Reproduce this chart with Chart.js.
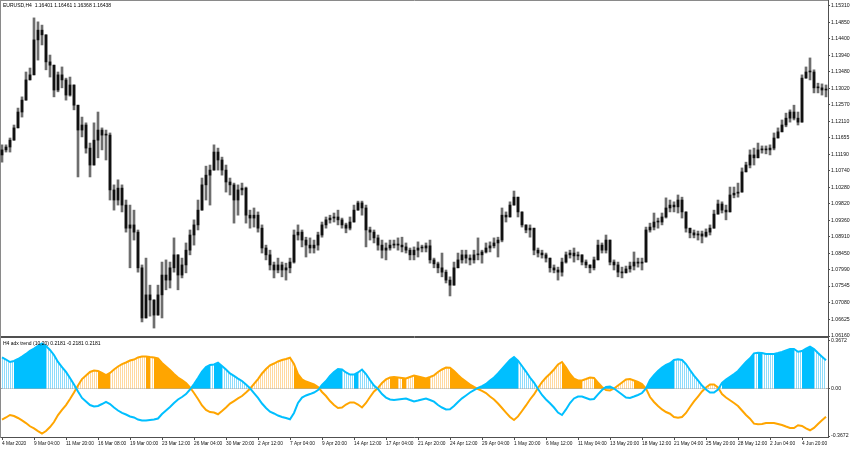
<!DOCTYPE html>
<html><head><meta charset="utf-8">
<script src="https://cdn.jsdelivr.net/npm/chart.js@4"></script>
<style>
html,body{margin:0;padding:0;background:#fff;}
#wrap{position:relative;width:852px;height:450px;overflow:hidden;background:#fff;}
#c1{position:absolute;left:0;top:0;}
#c2{position:absolute;left:0;top:337px;}
.lbl{position:absolute;font-family:"Liberation Sans",Arial,sans-serif;font-size:5px;color:#000;white-space:pre;line-height:1;}
</style></head><body>
<div id="wrap">
<canvas id="c1" width="852" height="345"></canvas>
<canvas id="c2" width="852" height="113"></canvas>
<div class="lbl" style="left:3px;top:2.5px">EURUSD,H4  1.16401 1.16461 1.16368 1.16438</div>
<div class="lbl" style="left:3px;top:340.5px">H4 adx trend (10,20) 0.2181 -0.2181 0.2181</div>
</div>
<script>
const timeLabels = ['4 Mar 2020','9 Mar 04:00','11 Mar 20:00','16 Mar 08:00','19 Mar 00:00','23 Mar 12:00','26 Mar 04:00','30 Mar 20:00','2 Apr 12:00','7 Apr 04:00','9 Apr 20:00','14 Apr 12:00','17 Apr 04:00','21 Apr 20:00','24 Apr 12:00','29 Apr 04:00','1 May 20:00','6 May 12:00','11 May 04:00','13 May 20:00','18 May 12:00','21 May 04:00','25 May 20:00','28 May 12:00','2 Jun 04:00','4 Jun 20:00'];
const priceTicks = [1.15310,1.14850,1.14400,1.13940,1.13480,1.13020,1.12570,1.12110,1.11655,1.11190,1.10740,1.10280,1.09820,1.09360,1.08910,1.08450,1.07990,1.07545,1.07080,1.06625,1.06160];
const indTicks = [0.3672, 0, -0.3672];
const indTickLabels = ['0.3672', '0.00', '-0.3672'];

const opens = [1.1118,1.1132,1.1140,1.1159,1.1193,1.1237,1.1270,1.1326,1.1340,1.1437,
1.1464,1.1451,1.1376,1.1367,1.1298,1.1340,1.1326,1.1284,1.1312,1.1256,
1.1187,1.1201,1.1137,1.1090,1.1159,1.1187,1.1173,1.1173,1.1021,1.0993,
1.1026,1.0979,1.0915,1.0924,1.0904,1.0805,1.0666,1.0730,1.0716,1.0674,
1.0730,1.0785,1.0771,1.0805,1.0841,1.0785,1.0813,1.0854,1.0896,1.0924,
1.0965,1.1035,1.1062,1.1076,1.1126,1.1104,1.1076,1.1043,1.1035,1.0993,
1.1021,1.1026,1.0951,1.0943,1.0951,1.0915,1.0860,1.0841,1.0813,1.0799,
1.0813,1.0799,1.0805,1.0821,1.0896,1.0904,1.0882,1.0868,1.0860,1.0868,
1.0896,1.0924,1.0938,1.0943,1.0946,1.0938,1.0924,1.0915,1.0932,1.0965,
1.0985,1.0971,1.0910,1.0904,1.0888,1.0868,1.0854,1.0860,1.0868,1.0871,
1.0868,1.0863,1.0854,1.0841,1.0854,1.0860,1.0860,1.0866,1.0827,1.0816,
1.0805,1.0793,1.0771,1.0757,1.0805,1.0827,1.0841,1.0832,1.0827,1.0841,
1.0841,1.0849,1.0860,1.0866,1.0874,1.0882,1.0951,1.0946,1.0979,1.1001,
1.0960,1.0924,1.0910,1.0915,1.0854,1.0846,1.0841,1.0832,1.0805,1.0799,
1.0793,1.0821,1.0841,1.0846,1.0838,1.0841,1.0821,1.0813,1.0805,1.0827,
1.0868,1.0854,1.0882,1.0821,1.0813,1.0793,1.0791,1.0802,1.0810,1.0821,
1.0818,1.0821,1.0910,1.0918,1.0932,1.0932,1.0946,1.0971,1.0979,1.0974,
1.0993,1.0960,1.0915,1.0902,1.0896,1.0899,1.0893,1.0904,1.0915,1.0954,
1.0982,1.0965,1.0960,1.1007,1.1012,1.1015,1.1071,1.1090,1.1118,1.1110,
1.1132,1.1132,1.1132,1.1137,1.1165,1.1182,1.1201,1.1220,1.1237,1.1220,
1.1209,1.1331,1.1348,1.1348,1.1304,1.1304,1.1298];
const highs = [1.1146,1.1146,1.1165,1.1201,1.1248,1.1279,1.1348,1.1359,1.1498,1.1487,
1.1478,1.1451,1.1395,1.1367,1.1348,1.1362,1.1331,1.1334,1.1312,1.1256,
1.1223,1.1207,1.1151,1.1207,1.1237,1.1193,1.1187,1.1179,1.1035,1.1049,
1.1035,1.0993,1.0979,1.0965,1.0910,1.0813,1.0832,1.0757,1.0716,1.0757,
1.0821,1.0827,1.0821,1.0888,1.0841,1.0832,1.0874,1.0910,1.0938,1.0993,
1.1054,1.1087,1.1090,1.1146,1.1137,1.1112,1.1090,1.1054,1.1040,1.1035,
1.1040,1.1029,1.0965,1.0971,1.0960,1.0924,1.0868,1.0854,1.0821,1.0832,
1.0821,1.0818,1.0832,1.0910,1.0924,1.0910,1.0890,1.0888,1.0882,1.0904,
1.0932,1.0946,1.0951,1.0957,1.0965,1.0943,1.0929,1.0946,1.0979,1.0990,
1.0990,1.0979,1.0918,1.0910,1.0896,1.0882,1.0874,1.0882,1.0882,1.0888,
1.0890,1.0874,1.0860,1.0863,1.0877,1.0868,1.0874,1.0882,1.0832,1.0821,
1.0846,1.0799,1.0780,1.0821,1.0846,1.0854,1.0854,1.0841,1.0854,1.0888,
1.0854,1.0874,1.0877,1.0888,1.0890,1.0971,1.0960,1.0988,1.1018,1.1001,
1.0960,1.0924,1.0924,1.0915,1.0860,1.0854,1.0846,1.0832,1.0813,1.0807,
1.0832,1.0849,1.0854,1.0860,1.0849,1.0841,1.0827,1.0813,1.0835,1.0882,
1.0874,1.0896,1.0882,1.0827,1.0821,1.0807,1.0810,1.0821,1.0849,1.0832,
1.0832,1.0918,1.0929,1.0957,1.0943,1.0957,1.0999,1.0993,1.0988,1.1007,
1.1001,1.0960,1.0915,1.0910,1.0907,1.0907,1.0913,1.0924,1.0965,1.0993,
1.0988,1.0979,1.1029,1.1029,1.1040,1.1082,1.1098,1.1132,1.1137,1.1151,
1.1143,1.1143,1.1146,1.1179,1.1193,1.1215,1.1234,1.1243,1.1256,1.1237,
1.1340,1.1362,1.1387,1.1354,1.1317,1.1315,1.1312];
const lows = [1.1098,1.1126,1.1126,1.1159,1.1193,1.1223,1.1270,1.1326,1.1340,1.1381,
1.1423,1.1354,1.1334,1.1279,1.1293,1.1304,1.1270,1.1281,1.1243,1.1057,
1.1168,1.1123,1.1057,1.1090,1.1110,1.1132,1.1104,1.0993,1.0965,1.0979,
1.0960,1.0904,1.0805,1.0882,1.0793,1.0655,1.0666,1.0671,1.0638,1.0674,
1.0666,1.0744,1.0749,1.0793,1.0744,1.0777,1.0791,1.0841,1.0868,1.0910,
1.0965,1.0993,1.0979,1.1076,1.1076,1.1062,1.1015,1.1007,1.0929,1.0951,
1.1007,1.0929,1.0915,1.0918,1.0904,1.0846,1.0827,1.0799,1.0777,1.0791,
1.0780,1.0771,1.0791,1.0818,1.0882,1.0863,1.0835,1.0846,1.0846,1.0854,
1.0890,1.0915,1.0929,1.0932,1.0924,1.0915,1.0902,1.0910,1.0932,1.0965,
1.0951,1.0863,1.0882,1.0874,1.0854,1.0832,1.0827,1.0854,1.0860,1.0854,
1.0849,1.0846,1.0827,1.0827,1.0835,1.0849,1.0849,1.0818,1.0805,1.0791,
1.0780,1.0763,1.0727,1.0757,1.0805,1.0818,1.0818,1.0813,1.0818,1.0827,
1.0818,1.0846,1.0849,1.0860,1.0835,1.0877,1.0932,1.0946,1.0979,1.0946,
1.0918,1.0902,1.0890,1.0841,1.0835,1.0832,1.0821,1.0793,1.0791,1.0771,
1.0782,1.0818,1.0832,1.0821,1.0827,1.0813,1.0805,1.0791,1.0799,1.0827,
1.0846,1.0846,1.0813,1.0799,1.0780,1.0777,1.0791,1.0793,1.0799,1.0807,
1.0799,1.0821,1.0904,1.0910,1.0915,1.0924,1.0943,1.0960,1.0960,1.0957,
1.0943,1.0904,1.0888,1.0888,1.0882,1.0874,1.0890,1.0896,1.0915,1.0954,
1.0957,1.0938,1.0960,1.0999,1.1001,1.1015,1.1071,1.1082,1.1090,1.1110,
1.1123,1.1121,1.1118,1.1132,1.1165,1.1182,1.1196,1.1209,1.1215,1.1201,
1.1209,1.1331,1.1326,1.1290,1.1290,1.1284,1.1279];
const closes = [1.1132,1.1140,1.1159,1.1193,1.1237,1.1270,1.1326,1.1340,1.1437,1.1464,
1.1451,1.1376,1.1367,1.1298,1.1340,1.1326,1.1284,1.1312,1.1256,1.1187,
1.1201,1.1137,1.1090,1.1159,1.1187,1.1173,1.1173,1.1021,1.0993,1.1026,
1.0979,1.0915,1.0924,1.0904,1.0805,1.0666,1.0730,1.0716,1.0674,1.0730,
1.0785,1.0771,1.0805,1.0841,1.0785,1.0813,1.0854,1.0896,1.0924,1.0965,
1.1035,1.1062,1.1076,1.1126,1.1104,1.1076,1.1043,1.1035,1.0993,1.1021,
1.1026,1.0951,1.0943,1.0951,1.0915,1.0860,1.0841,1.0813,1.0799,1.0813,
1.0799,1.0805,1.0821,1.0896,1.0904,1.0882,1.0868,1.0860,1.0868,1.0896,
1.0924,1.0938,1.0943,1.0946,1.0938,1.0924,1.0915,1.0932,1.0965,1.0985,
1.0971,1.0910,1.0904,1.0888,1.0868,1.0854,1.0860,1.0868,1.0871,1.0868,
1.0863,1.0854,1.0841,1.0854,1.0860,1.0860,1.0866,1.0827,1.0816,1.0805,
1.0793,1.0771,1.0757,1.0805,1.0827,1.0841,1.0832,1.0827,1.0841,1.0841,
1.0849,1.0860,1.0866,1.0874,1.0882,1.0951,1.0946,1.0979,1.1001,1.0960,
1.0924,1.0910,1.0915,1.0854,1.0846,1.0841,1.0832,1.0805,1.0799,1.0793,
1.0821,1.0841,1.0846,1.0838,1.0841,1.0821,1.0813,1.0805,1.0827,1.0868,
1.0854,1.0882,1.0821,1.0813,1.0793,1.0791,1.0802,1.0810,1.0821,1.0818,
1.0821,1.0910,1.0918,1.0932,1.0932,1.0946,1.0971,1.0979,1.0974,1.0993,
1.0960,1.0915,1.0902,1.0896,1.0899,1.0893,1.0904,1.0915,1.0954,1.0982,
1.0965,1.0960,1.1007,1.1012,1.1015,1.1071,1.1090,1.1118,1.1110,1.1132,
1.1132,1.1132,1.1137,1.1165,1.1182,1.1201,1.1220,1.1237,1.1220,1.1209,
1.1331,1.1348,1.1348,1.1304,1.1304,1.1298,1.1298];

const trendUp = [0.240,0.224,0.205,0.213,0.228,0.247,0.267,0.292,0.309,0.329,
0.348,0.329,0.298,0.259,0.205,0.166,0.128,0.081,0.031,-0.023,
-0.073,-0.100,-0.128,-0.139,-0.135,-0.120,-0.104,-0.120,-0.147,-0.170,
-0.189,-0.201,-0.216,-0.224,-0.240,-0.247,-0.247,-0.243,-0.240,-0.232,
-0.197,-0.170,-0.143,-0.112,-0.085,-0.066,-0.043,-0.008,0.035,0.081,
0.131,0.166,0.182,0.186,0.199,0.174,0.147,0.117,0.097,0.077,
0.058,0.031,0.002,-0.035,-0.073,-0.116,-0.151,-0.179,-0.193,-0.209,
-0.220,-0.228,-0.238,-0.189,-0.112,-0.070,-0.054,-0.043,-0.031,-0.012,
0.027,0.058,0.097,0.128,0.151,0.147,0.124,0.108,0.108,0.124,
0.147,0.112,0.066,0.023,-0.004,-0.043,-0.070,-0.085,-0.089,-0.085,
-0.081,-0.077,-0.089,-0.100,-0.093,-0.085,-0.077,-0.089,-0.102,-0.128,
-0.147,-0.162,-0.161,-0.135,-0.104,-0.076,-0.054,-0.031,-0.012,0.004,
0.019,0.035,0.062,0.085,0.116,0.151,0.186,0.220,0.243,0.216,
0.174,0.131,0.085,0.046,-0.004,-0.050,-0.085,-0.114,-0.147,-0.186,
-0.205,-0.162,-0.112,-0.077,-0.062,-0.062,-0.073,-0.085,-0.081,-0.046,
-0.012,0.012,0.015,0.000,-0.023,-0.046,-0.070,-0.073,-0.062,-0.050,
-0.035,0.000,0.066,0.104,0.135,0.162,0.182,0.195,0.220,0.226,
0.220,0.189,0.143,0.100,0.062,0.023,-0.008,-0.031,-0.031,-0.008,
0.043,0.070,0.091,0.112,0.135,0.170,0.205,0.233,0.272,0.277,
0.274,0.267,0.267,0.267,0.274,0.282,0.294,0.305,0.305,0.284,
0.290,0.309,0.323,0.305,0.274,0.246,0.218];
const trendDown = [-0.240,-0.224,-0.205,-0.213,-0.228,-0.247,-0.267,-0.292,-0.309,-0.329,
-0.348,-0.329,-0.298,-0.259,-0.205,-0.166,-0.128,-0.081,-0.031,0.023,
0.073,0.100,0.128,0.139,0.135,0.120,0.104,0.120,0.147,0.170,
0.189,0.201,0.216,0.224,0.240,0.247,0.247,0.243,0.240,0.232,
0.197,0.170,0.143,0.112,0.085,0.066,0.043,0.008,-0.035,-0.081,
-0.131,-0.166,-0.182,-0.186,-0.199,-0.174,-0.147,-0.117,-0.097,-0.077,
-0.058,-0.031,-0.002,0.035,0.073,0.116,0.151,0.179,0.193,0.209,
0.220,0.228,0.238,0.189,0.112,0.070,0.054,0.043,0.031,0.012,
-0.027,-0.058,-0.097,-0.128,-0.151,-0.147,-0.124,-0.108,-0.108,-0.124,
-0.147,-0.112,-0.066,-0.023,0.004,0.043,0.070,0.085,0.089,0.085,
0.081,0.077,0.089,0.100,0.093,0.085,0.077,0.089,0.102,0.128,
0.147,0.162,0.161,0.135,0.104,0.076,0.054,0.031,0.012,-0.004,
-0.019,-0.035,-0.062,-0.085,-0.116,-0.151,-0.186,-0.220,-0.243,-0.216,
-0.174,-0.131,-0.085,-0.046,0.004,0.050,0.085,0.114,0.147,0.186,
0.205,0.162,0.112,0.077,0.062,0.062,0.073,0.085,0.081,0.046,
0.012,-0.012,-0.015,0.000,0.023,0.046,0.070,0.073,0.062,0.050,
0.035,0.000,-0.066,-0.104,-0.135,-0.162,-0.182,-0.195,-0.220,-0.226,
-0.220,-0.189,-0.143,-0.100,-0.062,-0.023,0.008,0.031,0.031,0.008,
-0.043,-0.070,-0.091,-0.112,-0.135,-0.170,-0.205,-0.233,-0.272,-0.277,
-0.274,-0.267,-0.267,-0.267,-0.274,-0.282,-0.294,-0.305,-0.305,-0.284,
-0.290,-0.309,-0.323,-0.305,-0.274,-0.246,-0.218];
// 1 = solid histogram bar, 0 = light (hatched) bar
const shade = ('000' + '11111111' + '00000000' + '00000' + '111' + '000000000' + '1' + '0' + '1111111111' +
  '1111' + '0' + '11' + '00000000' + '0000000000' + '1111111' + '11111' + '000' + '1' + '00000' +
  '000' + '11' + '0' + '1' + '00' + '1111' + '00000' + '1111111' + '1111111111' + '00000' +
  '000000' + '11111' + '000' + '111' + '11' + '00000' + '111' + '1111111' + '00000000' + '0000' +
  '11111111' + '0' + '1' + '000' + '11111' + '00' + '111' + '0000').split('').map(Number);

const FONT_Y = {family: '"Liberation Sans", Arial, sans-serif', size: 5.2};
const FONT_X = {family: '"Liberation Sans", Arial, sans-serif', size: 4.8};
const catLabels = closes.map((_, i) => (i % 8 === 0 && timeLabels[i / 8]) ? timeLabels[i / 8] : '');

function borderAxis(pos, color, labels) {
  const a = {position: pos, display: true, grid: {display: false}, ticks: {display: false},
    border: {display: true, color: color, width: 1}};
  if (pos === 'top' || pos === 'bottom') { a.type = 'category'; a.labels = labels; a.offset = true; a.afterFit = s => { s.height = 0; }; }
  else { a.afterFit = s => { s.width = 0; }; }
  return a;
}

// ---------- main price panel ----------
new Chart(document.getElementById('c1'), {
  type: 'bar',
  data: {
    labels: catLabels,
    datasets: [
      {data: opens.map((o, i) => [o, closes[i]]), backgroundColor: '#111111', barThickness: 2,
       grouped: false, minBarLength: 1, order: 0, xAxisID: 'x', yAxisID: 'y'},
      {data: lows.map((l, i) => [l, highs[i]]), backgroundColor: '#6e6e6e', barThickness: 2,
       grouped: false, minBarLength: 1, order: 1, xAxisID: 'x', yAxisID: 'y'}
    ]
  },
  options: {
    responsive: false, animation: false, devicePixelRatio: 1,
    layout: {padding: {top: 0, left: 0, right: 0, bottom: 9}},
    plugins: {legend: {display: false}, tooltip: {enabled: false}},
    scales: {
      x: borderAxis('bottom', '#505050', catLabels),
      xt: borderAxis('top', '#8a8a8a', catLabels),
      y: {
        position: 'right', min: 1.0616, max: 1.15476,
        afterBuildTicks: s => { s.ticks = priceTicks.map(v => ({value: v})); },
        ticks: {autoSkip: false, padding: 1, color: '#111', font: FONT_Y, callback: v => Number(v).toFixed(5)},
        grid: {drawOnChartArea: false, drawTicks: true, tickLength: 2, color: '#505050'},
        border: {display: true, color: '#505050'},
        afterFit: s => { s.width = 24; s.paddingTop = 0; s.paddingBottom = 0; }
      },
      yl: borderAxis('left', '#8a8a8a')
    }
  }
});

// ---------- indicator panel ----------
const c2 = document.getElementById('c2');
function stripes(a, b) {
  const c = document.createElement('canvas'); c.width = 2; c.height = 1;
  const g = c.getContext('2d');
  g.fillStyle = a; g.fillRect(0, 0, 1, 1);
  g.fillStyle = b; g.fillRect(1, 0, 1, 1);
  return c2.getContext('2d').createPattern(c, 'repeat');
}
const BLUE = '#00bfff', ORANGE = '#ffa500';
const blueLight = stripes('#8edcfb', '#ffffff');
const orangeLight = stripes('#ffd9a0', '#ffffff');

new Chart(c2, {
  type: 'line',
  data: {
    labels: catLabels,
    datasets: [
      {data: trendUp, borderColor: BLUE, borderWidth: 2, pointRadius: 0, fill: false, order: 0, xAxisID: 'x', yAxisID: 'y'},
      {data: trendDown, borderColor: ORANGE, borderWidth: 2, pointRadius: 0, fill: false, order: 1, xAxisID: 'x', yAxisID: 'y'},
      {data: trendUp.map(v => v > 0 ? v : 0), borderColor: 'rgba(0,0,0,0)', borderWidth: 0, pointRadius: 0,
       backgroundColor: BLUE, fill: 'origin', order: 3, xAxisID: 'x', yAxisID: 'y',
       segment: {backgroundColor: ctx => shade[ctx.p0DataIndex] ? BLUE : blueLight}},
      {data: trendDown.map(v => v > 0 ? v : 0), borderColor: 'rgba(0,0,0,0)', borderWidth: 0, pointRadius: 0,
       backgroundColor: ORANGE, fill: 'origin', order: 4, xAxisID: 'x', yAxisID: 'y',
       segment: {backgroundColor: ctx => shade[ctx.p0DataIndex] ? ORANGE : orangeLight}}
    ]
  },
  options: {
    responsive: false, animation: false, devicePixelRatio: 1,
    layout: {padding: 0},
    plugins: {legend: {display: false}, tooltip: {enabled: false}},
    scales: {
      x: {
        type: 'category', labels: catLabels, offset: true, position: 'bottom',
        afterBuildTicks: s => { s.ticks = timeLabels.map((_, k) => ({value: k * 8})); },
        ticks: {autoSkip: false, maxRotation: 0, minRotation: 0, align: 'start', padding: 1,
          color: '#111', font: FONT_X, callback: v => catLabels[v]},
        grid: {drawOnChartArea: false, drawTicks: true, tickLength: 3, color: '#505050'},
        border: {display: true, color: '#505050'},
        afterFit: s => { s.height = 13; s.paddingLeft = 0; s.paddingRight = 0; }
      },
      xt: borderAxis('top', '#505050', catLabels),
      y: {
        position: 'right', min: -0.3749, max: 0.3981,
        afterBuildTicks: s => { s.ticks = indTicks.map(v => ({value: v})); },
        ticks: {autoSkip: false, padding: 1, color: '#111', font: FONT_Y, callback: (v, i) => indTickLabels[i]},
        grid: {drawOnChartArea: true, drawTicks: true, tickLength: 2, tickColor: '#505050',
          color: ctx => (ctx.tick && ctx.tick.value === 0) ? '#a8a8a8' : 'rgba(0,0,0,0)'},
        border: {display: true, color: '#505050'},
        afterFit: s => { s.width = 24; s.paddingTop = 0; s.paddingBottom = 0; }
      },
      yl: borderAxis('left', '#8a8a8a')
    }
  }
});
</script>
</body></html>
